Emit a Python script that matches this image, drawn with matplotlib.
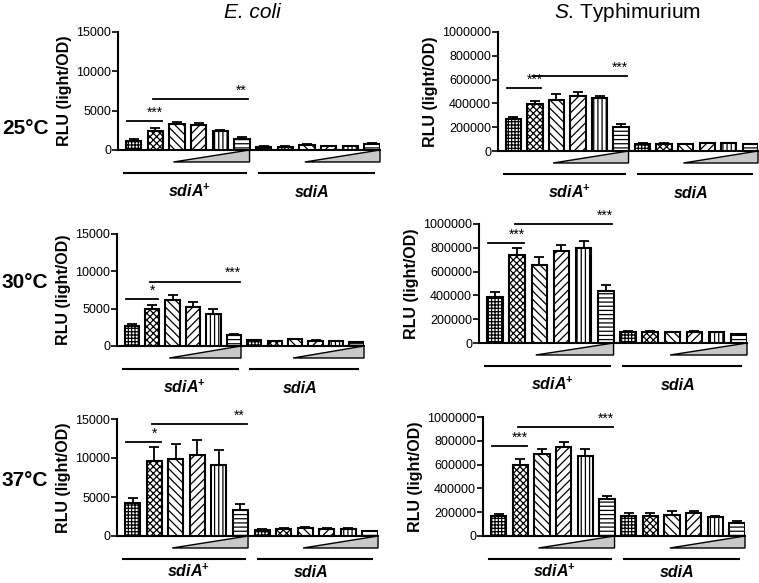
import matplotlib
matplotlib.use("Agg")
import matplotlib.pyplot as plt
import matplotlib.transforms as mtransforms
from matplotlib.patches import Polygon
from matplotlib.ticker import StrMethodFormatter

plt.rcParams['font.family'] = ['Liberation Sans', 'DejaVu Sans']
plt.rcParams['mathtext.fontset'] = 'custom'
plt.rcParams['mathtext.rm'] = 'Liberation Sans'
plt.rcParams['mathtext.it'] = 'Liberation Sans:italic'
plt.rcParams['mathtext.bf'] = 'Liberation Sans:bold'
plt.rcParams['hatch.linewidth'] = 0.9

# Data
hatches = ['+++++', 'xxxxx', '\\\\\\\\', '////', '||||', '----']

ecoli_25 = [1200, 2450, 3340, 3170, 2450, 1440, 420, 420, 680, 510, 510, 760]
ecoli_25_err = [200, 350, 260, 290, 150, 210, 60, 60, 80, 60, 60, 100]
typh_25 = [268000, 394000, 428000, 462000, 442000, 203000, 62000, 62000, 60000, 64000, 64000, 55000]
typh_25_err = [19000, 28000, 48000, 34000, 20000, 28000, 3000, 3000, 3000, 3000, 3000, 3000]

ecoli_30 = [2650, 4940, 6150, 5160, 4270, 1480, 760, 670, 940, 720, 670, 540]
ecoli_30_err = [350, 540, 630, 720, 620, 180, 60, 50, 60, 50, 50, 60]
typh_30 = [386000, 740000, 658000, 776000, 798000, 440000, 95000, 95000, 92000, 95000, 90000, 73000]
typh_30_err = [40000, 56000, 62000, 50000, 56000, 45000, 3000, 3000, 3000, 3000, 3000, 3000]

ecoli_37 = [4290, 9600, 9900, 10370, 9090, 3300, 810, 940, 1030, 940, 940, 600]
ecoli_37_err = [640, 1760, 1890, 1930, 1880, 810, 100, 80, 80, 80, 80, 60]
typh_37 = [172000, 594000, 687000, 744000, 673000, 310000, 172000, 169000, 175000, 191000, 160000, 113000]
typh_37_err = [11000, 54000, 45000, 48000, 59000, 22000, 22000, 22000, 36000, 20000, 9000, 11000]

# significance: (short bar height, long bar height, short label, long label)
sig_ecoli = [(3720, 6480, '***', '**'), (6330, 8620, '*', '***'), (12000, 14300, '*', '**')]
sig_typh = [(531000, 629000, '***', '***'), (843000, 1000000, '***', '***'), (758000, 913000, '***', '***')]

temps = ['25°C', '30°C', '37°C']
ecoli_ymax = 15000
ecoli_ticks = [0, 5000, 10000, 15000]
typh_ymax = 1000000
typh_ticks = [0, 200000, 400000, 600000, 800000, 1000000]

W, H = 759, 583
fig = plt.figure(figsize=(W / 100, H / 100), dpi=100)


def rect(x0, x1, y0, y1):
    return [x0 / W, 1 - y1 / H, (x1 - x0) / W, (y1 - y0) / H]


# axes boxes in pixels: x0, x1, ytop, ybottom
boxes = [
    [(118, 380, 32, 150), (498, 758, 32, 151)],
    [(117, 364, 234, 346), (479, 747, 224, 343)],
    [(117, 378, 419, 536), (483, 745, 417, 536)],
]
row_y = [128, 282, 480]


def draw_panel(ax, box, vals, errs, ymax, ticks, sig):
    hpx = box[3] - box[2]
    x = list(range(len(vals)))
    for i, v in enumerate(vals):
        ax.bar(x[i], v, width=0.7, color='white', edgecolor='black',
               linewidth=1.5, hatch=hatches[i % 6], zorder=3)
    ax.errorbar(x, vals, yerr=[[0] * len(vals), errs], fmt='none', ecolor='black',
                elinewidth=1.3, capsize=3.5, capthick=1.3, zorder=2)
    ax.set_xlim(-0.72, 11.37)
    ax.set_ylim(0, ymax)
    ax.set_yticks(ticks)
    ax.yaxis.set_major_formatter(StrMethodFormatter('{x:.0f}'))
    ax.set_xticks([])
    for s in ['top', 'right']:
        ax.spines[s].set_visible(False)
    for s in ['left', 'bottom']:
        ax.spines[s].set_linewidth(1.5)
    ax.tick_params(axis='y', length=4, width=1.2, labelsize=9, pad=1)
    ax.set_ylabel('RLU (light/OD)', fontsize=11.5, fontweight='bold', labelpad=3)

    trans = mtransforms.blended_transform_factory(ax.transData, ax.transAxes)
    tri_y = -12 / hpx
    line_y = -23 / hpx
    lab_y = -min(47, H - box[3] - 6) / hpx
    # concentration wedges
    for xl, xr in [(1.84, 5.35), (7.9, 11.37)]:
        tri = Polygon([(xl, tri_y), (xr, 0.0), (xr, tri_y)], closed=True,
                      facecolor='#c8c8c8', edgecolor='black', linewidth=1,
                      transform=trans, clip_on=False)
        ax.add_patch(tri)
    # group lines and labels
    ax.plot([-0.44, 5.19], [line_y, line_y], color='black', lw=1.5,
            transform=trans, clip_on=False)
    ax.plot([5.79, 11.1], [line_y, line_y], color='black', lw=1.5,
            transform=trans, clip_on=False)
    ax.text(2.6, lab_y, r'sdiA$^{\mathbf{+}}$', transform=trans, ha='center', va='baseline',
            fontsize=11.5, fontweight='bold', fontstyle='italic')
    ax.text(8.25, lab_y, 'sdiA', transform=trans, ha='center', va='baseline',
            fontsize=11.5, fontweight='bold', fontstyle='italic')

    # significance bars
    sy, ly, sl, ll = sig
    ax.plot([-0.3, 1.3], [sy, sy], color='black', lw=1.3, clip_on=False)
    ax.plot([0.9, 5.3], [ly, ly], color='black', lw=1.3, clip_on=False)
    ax.annotate(sl, (1.0, sy), xytext=(0, 1), textcoords='offset points',
                ha='center', va='bottom', fontsize=10, annotation_clip=False)
    ax.annotate(ll, (4.95, ly), xytext=(0, 1), textcoords='offset points',
                ha='center', va='bottom', fontsize=10, annotation_clip=False)


ecoli_data = [(ecoli_25, ecoli_25_err), (ecoli_30, ecoli_30_err), (ecoli_37, ecoli_37_err)]
typh_data = [(typh_25, typh_25_err), (typh_30, typh_30_err), (typh_37, typh_37_err)]

for r in range(3):
    axl = fig.add_axes(rect(*boxes[r][0]))
    draw_panel(axl, boxes[r][0], ecoli_data[r][0], ecoli_data[r][1], ecoli_ymax, ecoli_ticks, sig_ecoli[r])
    axr = fig.add_axes(rect(*boxes[r][1]))
    draw_panel(axr, boxes[r][1], typh_data[r][0], typh_data[r][1], typh_ymax, typh_ticks, sig_typh[r])
    fig.text(2 / W, 1 - row_y[r] / H, temps[r], fontsize=15, fontweight='bold',
             ha='left', va='center')

# column titles
fig.text(252 / W, 1 - 12 / H, 'E. coli', fontsize=15, fontstyle='italic',
         ha='center', va='center')
fig.text(627 / W, 1 - 12 / H, r'$\mathit{S}$. Typhimurium', fontsize=15,
         ha='center', va='center')

fig.savefig('out.png', dpi=100)
